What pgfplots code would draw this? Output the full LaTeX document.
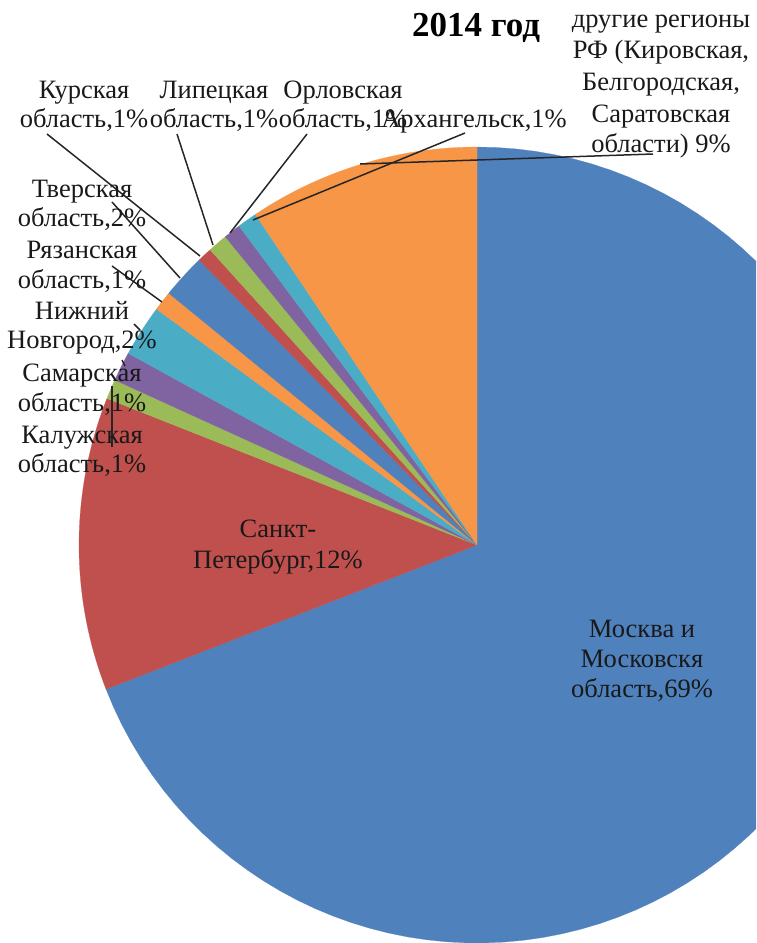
\documentclass[border=0pt]{standalone}
\usepackage{pgfplots}
\usepackage{pgfplotstable}
\pgfplotsset{compat=1.18}
\usepackage{fontspec}
\setmainfont{Liberation Serif}
\definecolor{cB}{HTML}{4F81BD}
\definecolor{cR}{HTML}{C0504D}
\definecolor{cG}{HTML}{9BBB59}
\definecolor{cP}{HTML}{8064A2}
\definecolor{cC}{HTML}{4BACC6}
\definecolor{cO}{HTML}{F79646}
\newcommand{\lab}{\fontsize{26.5}{30}\selectfont}
\pgfplotstableread{
val col
69.1 cB
11.9 cR
0.8 cG
1.2 cP
2.1 cC
0.8 cO
1.8 cB
0.6 cR
0.8 cG
0.7 cP
0.8 cC
9.4 cO
}\piedata
\begin{document}
\begin{tikzpicture}
\begin{axis}[
  scale only axis, width=756pt, height=943pt,
  xmin=0, xmax=756, ymin=0, ymax=943, y dir=reverse,
  hide axis, clip=true,
]
\xdef\cum{90}
\pgfplotsforeachungrouped \i in {0,...,11}{%
  \pgfplotstablegetelem{\i}{val}\of\piedata \let\v=\pgfplotsretval
  \pgfplotstablegetelem{\i}{col}\of\piedata \let\c=\pgfplotsretval
  \pgfmathsetmacro\aend{\cum-3.6*\v}%
  \edef\cmd{\noexpand\addplot[fill=\c, draw=\c, line width=0.2pt, domain=\aend:\cum, samples=90, variable=\noexpand\t] ({477+398*cos(\noexpand\t)},{545-398*sin(\noexpand\t)}) -- (axis cs:477,545) -- cycle;}%
  \cmd
  \global\let\cum\aend
}
% leader lines
\pgfplotsset{leader/.style={black!85, line width=1.5pt, no marks}}
\addplot[leader] coordinates {(360,164) (653,154)};
\addplot[leader] coordinates {(465,133) (253,220)};
\addplot[leader] coordinates {(307,134) (230,233)};
\addplot[leader] coordinates {(177,134) (213,245)};
\addplot[leader] coordinates {(47,134) (200,256)};
\addplot[leader] coordinates {(112,202) (180,278)};
\addplot[leader] coordinates {(112,266) (162,302)};
\addplot[leader] coordinates {(134,324) (140,330)};
\addplot[leader] coordinates {(122,360) (125,366)};
\addplot[leader] coordinates {(112,447) (112,386)};
% title
\node[anchor=base, font=\fontsize{35}{40}\selectfont\bfseries] at (axis cs:476,36) {2014 год};
% labels
\begin{scope}[every node/.style={anchor=base, font=\lab, inner sep=0pt, text=black!90}]
\node at (axis cs:661,27) {другие регионы};
\node at (axis cs:661,58) {РФ (Кировская,};
\node at (axis cs:661,90) {Белгородская,};
\node at (axis cs:661,122) {Саратовская};
\node at (axis cs:661,152) {области) 9\%};
\node at (axis cs:84,98) {Курская};
\node at (axis cs:84,127) {область,1\%};
\node at (axis cs:214,98) {Липецкая};
\node at (axis cs:214,127) {область,1\%};
\node at (axis cs:343,98) {Орловская};
\node at (axis cs:343,127) {область,1\%};
\node at (axis cs:474,127) {Архангельск,1\%};
\node at (axis cs:82,197) {Тверская};
\node at (axis cs:82,226) {область,2\%};
\node at (axis cs:82,258) {Рязанская};
\node at (axis cs:82,288) {область,1\%};
\node at (axis cs:82,319) {Нижний};
\node at (axis cs:82,348) {Новгород,2\%};
\node at (axis cs:82,381) {Самарская};
\node at (axis cs:82,411) {область,1\%};
\node at (axis cs:82,443) {Калужская};
\node at (axis cs:82,472) {область,1\%};
\node at (axis cs:278,537) {Санкт-};
\node at (axis cs:278,568) {Петербург,12\%};
\node at (axis cs:642,637) {Москва и};
\node at (axis cs:642,667) {Московскя};
\node at (axis cs:642,697) {область,69\%};
\end{scope}
\end{axis}
\pgfresetboundingbox
\path (current axis.south west) rectangle (current axis.north east);
\end{tikzpicture}
\end{document}
